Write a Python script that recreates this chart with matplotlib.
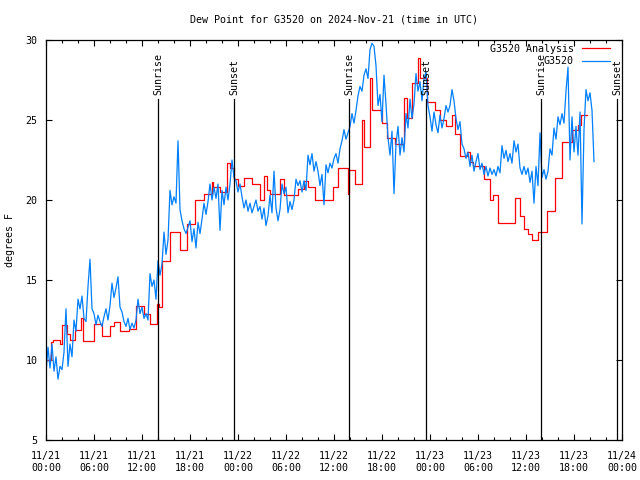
import numpy as np
import matplotlib
matplotlib.use("Agg")
import matplotlib.pyplot as plt
from matplotlib.ticker import MultipleLocator, FixedLocator

# hours since 2024-11-21 00:00 UTC
# station observations, one value every 15 min
obs_step = 0.25
obs_dewpt = [
    9.2, 10.8, 9.5, 11.0, 9.3, 10.2, 8.8, 9.6, 9.4, 10.5, 13.2, 9.6,
    11.0, 10.2, 12.5, 11.8, 13.8, 13.2, 14.0, 12.6, 12.4, 14.6, 16.3, 13.2,
    12.9, 12.2, 12.8, 12.4, 12.1, 12.7, 13.2, 12.5, 13.4, 14.8, 13.9, 14.5,
    15.2, 13.3, 13.0, 12.4, 12.1, 12.6, 11.9, 12.3, 12.0, 12.5, 13.8, 12.9,
    13.3, 12.6, 12.9, 12.5, 15.4, 14.6, 15.0, 13.8, 16.2, 15.3, 16.0, 18.0,
    16.6, 17.5, 20.6, 19.7, 20.2, 19.8, 23.7, 19.4, 18.7, 18.2, 17.9, 18.3,
    18.7, 17.4, 18.2, 17.0, 18.6, 17.9, 18.8, 19.8, 19.1, 19.9, 21.0, 20.0,
    20.8, 20.1, 21.0, 18.1, 20.6, 19.7, 20.8, 20.0, 21.0, 22.5, 21.4, 21.2,
    20.5, 21.0, 20.2, 19.5, 20.0, 19.3, 19.8, 19.2, 19.6, 20.0, 19.3, 19.6,
    18.8, 19.5, 18.4, 19.0, 20.3, 19.2, 21.8, 19.5, 18.7, 19.4, 21.0, 20.4,
    20.8, 19.2, 19.9, 19.4, 20.0, 21.3, 20.9, 21.2, 20.5, 21.2, 20.6, 22.8,
    22.2, 22.9, 21.8, 22.4, 21.8, 20.9, 21.6, 19.7, 22.2, 21.7, 22.3, 22.0,
    22.6, 22.9, 22.3, 23.2, 23.7, 24.4, 23.8, 24.2, 24.6, 25.4, 24.8, 25.6,
    26.5, 27.1, 26.8, 27.8, 28.2, 27.6, 29.4, 29.8, 29.6, 28.4, 25.9, 26.6,
    24.9, 27.8, 26.0, 23.9, 22.8, 24.3, 20.4, 23.5, 24.6, 22.8, 23.9, 23.0,
    25.4, 24.5, 26.3, 25.1, 26.0, 27.9, 26.8, 27.4, 26.2, 27.6, 28.0, 25.9,
    25.2, 24.3, 25.5, 24.7, 24.2, 25.3, 24.5, 25.1, 25.9, 25.5, 25.9, 26.9,
    26.2, 25.1, 24.4, 24.9, 23.5, 23.2, 22.6, 23.0, 22.1, 22.8, 21.8, 22.4,
    22.9, 21.9, 22.3, 21.6, 22.1, 21.5, 22.0, 21.6, 21.9, 21.5, 22.1, 21.7,
    23.4, 22.6, 23.1, 22.4, 22.9, 22.3, 23.7, 23.0, 23.5, 22.0, 21.6, 22.1,
    21.6, 22.0, 21.1, 21.8, 19.8, 22.1, 20.9, 24.2, 21.4, 21.9, 21.3, 21.8,
    23.2, 22.8, 24.5, 23.8, 25.2, 24.7, 25.4, 24.8, 26.8, 28.3, 22.5, 25.2,
    23.0, 24.6, 22.8, 25.5, 18.5, 24.4, 26.9, 26.2, 26.7, 25.6, 22.4,
]
obs_hours = np.arange(len(obs_dewpt)) * obs_step

# analysis values (step changes)
ana_hours = [0.0, 0.6, 0.9, 1.7, 2.0, 2.6, 3.0, 3.6, 4.4, 4.6, 6.0, 7.0,
             8.0, 8.5, 9.3, 10.4, 11.2, 12.3, 13.0, 13.9, 14.1, 14.5, 15.5, 16.75,
             17.6, 18.6, 19.7, 20.7, 20.9, 21.75, 22.6, 23.0, 23.5, 24.0, 24.7, 25.7,
             26.75, 27.2, 27.6, 28.0, 29.25, 29.7, 31.5, 32.2, 32.8, 33.6, 35.9, 36.5,
             37.7, 37.9, 38.6, 39.5, 39.7, 40.5, 40.7, 42.0, 42.6, 43.6, 44.7, 45.1,
             45.7, 46.5, 46.8, 47.6, 48.6, 49.25, 50.0, 50.7, 51.1, 51.75, 52.6, 53.0,
             53.4, 54.7, 55.5, 55.9, 56.5, 58.6, 59.3, 59.7, 60.3, 60.75, 61.5, 62.6,
             63.6, 64.5, 65.7, 66.5, 66.9, 67.6]
ana_dewpt = [10.0, 11.1, 11.25, 11.0, 12.2, 11.6, 11.25, 11.9, 12.6, 11.2, 12.25, 11.5,
             12.1, 12.35, 11.8, 11.95, 13.4, 12.9, 12.25, 13.5, 13.3, 16.2, 18.0, 16.9,
             18.5, 20.0, 20.4, 21.1, 20.8, 20.5, 22.3, 22.0, 21.3, 20.9, 21.4, 21.0,
             20.0, 21.5, 20.6, 20.4, 21.3, 20.3, 20.7, 21.2, 20.8, 20.0, 20.8, 22.0,
             20.4, 21.9, 21.0, 25.0, 23.3, 27.6, 25.6, 24.8, 23.9, 23.5, 26.4, 25.1,
             27.3, 28.9, 27.6, 26.1, 25.6, 25.0, 24.6, 25.3, 24.1, 22.75, 23.0, 22.4,
             22.1, 21.3, 20.0, 20.3, 18.55, 20.15, 19.0, 18.2, 17.9, 17.5, 18.0, 19.3,
             21.35, 23.65, 24.4, 24.7, 25.3, 25.3]

sun_hours = [14.05, 23.5, 37.9, 47.5, 61.9, 71.4]
sun_labels = ["Sunrise", "Sunset", "Sunrise", "Sunset", "Sunrise", "Sunset"]

tick_hours = [0, 6, 12, 18, 24, 30, 36, 42, 48, 54, 60, 66, 72]
tick_labels = ["11/21\n00:00", "11/21\n06:00", "11/21\n12:00", "11/21\n18:00",
               "11/22\n00:00", "11/22\n06:00", "11/22\n12:00", "11/22\n18:00",
               "11/23\n00:00", "11/23\n06:00", "11/23\n12:00", "11/23\n18:00",
               "11/24\n00:00"]

plt.rcParams['font.family'] = ['DejaVu Sans Mono']
plt.rcParams['font.size'] = 7.2

fig = plt.figure(figsize=(6.4, 4.8), dpi=100)
ax = fig.add_axes([46/640, 40/480, 576/640, 400/480])

ax.plot(ana_hours, ana_dewpt, color='red', lw=0.9, drawstyle='steps-post', label='G3520 Analysis')
ax.plot(obs_hours, obs_dewpt, color='#0080ff', lw=0.9, label='G3520')

for h, lab in zip(sun_hours, sun_labels):
    ax.plot([h, h], [5, 26.3], color='black', lw=0.9, zorder=5)
    ax.text(h, 26.55, lab, rotation=90, ha='center', va='bottom', fontsize=7.2)

ax.set_xlim(0, 72)
ax.set_ylim(5, 30)
ax.xaxis.set_major_locator(FixedLocator(tick_hours))
ax.set_xticklabels(tick_labels, linespacing=1.25)
ax.xaxis.set_minor_locator(MultipleLocator(2))
ax.yaxis.set_major_locator(MultipleLocator(5))
ax.tick_params(which='both', direction='in', top=True, right=True, width=0.8)
ax.tick_params(which='major', length=4, pad=6)
ax.tick_params(axis='x', which='major', pad=8)
ax.tick_params(which='minor', length=2.2)
for s in ax.spines.values():
    s.set_linewidth(0.9)

ax.set_ylabel('degrees F', labelpad=8)
fig.text(334/640, 1 - 20/480, 'Dew Point for G3520 on 2024-Nov-21 (time in UTC)',
         ha='center', va='center', fontsize=7.2)

ax.legend(loc='upper right', bbox_to_anchor=(0.979, 0.99), frameon=False, markerfirst=False,
          borderaxespad=0, borderpad=0, handlelength=2.8, handletextpad=0.8,
          labelspacing=0.25, fontsize=7.2)

fig.savefig('out.png', dpi=100)
